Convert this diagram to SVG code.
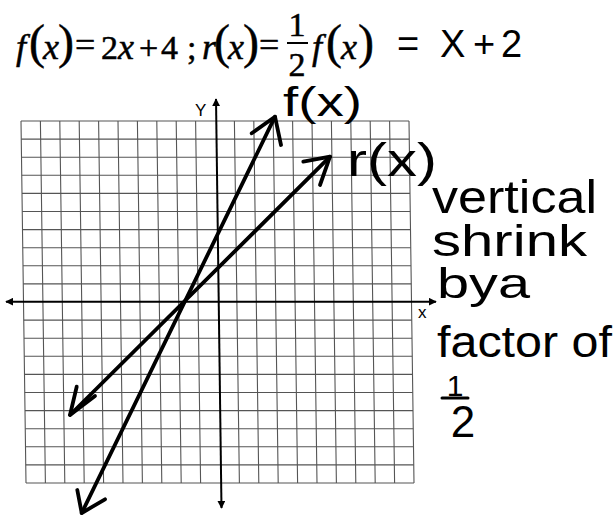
<svg xmlns="http://www.w3.org/2000/svg" width="614" height="516" viewBox="0 0 614 516">
<defs>
<style>
.math{font-family:"Liberation Serif","Times New Roman",serif;font-size:34px;fill:#000;stroke:#000;stroke-width:0.5}
.it{font-style:italic;font-size:36px}
.par{font-size:48px}
.eq{font-size:36px}
.hand{font-family:"Liberation Sans",Arial,sans-serif;fill:#000}
.grid{fill:none;stroke:#555;stroke-width:1.1}
.axis{fill:none;stroke:#000;stroke-width:2}
.fn{fill:none;stroke:#000;stroke-width:3.8;stroke-linecap:round;stroke-linejoin:round}
</style>
<marker id="ah" viewBox="0 0 10 10" refX="9" refY="5" markerWidth="4" markerHeight="4" orient="auto-start-reverse" markerUnits="strokeWidth">
<path d="M0 0L10 5L0 10z" fill="#000"/>
</marker>
</defs>
<rect width="614" height="516" fill="#fff"/>

<g id="equation">
<text class="math" y="59"><tspan class="it" x="16">f</tspan><tspan class="par" x="29" y="58">(</tspan><tspan class="it" x="43" y="59">x</tspan><tspan class="par" x="58" y="58">)</tspan><tspan class="eq" x="75" y="57">=</tspan><tspan x="101" y="59">2</tspan><tspan class="it" x="118">x</tspan><tspan x="139">+</tspan><tspan x="161">4</tspan><tspan x="187">;</tspan><tspan class="it" x="202">r</tspan><tspan class="par" x="214" y="58">(</tspan><tspan class="it" x="228" y="59">x</tspan><tspan class="par" x="243" y="58">)</tspan><tspan class="eq" x="259" y="57">=</tspan></text>
<text class="math" x="297" y="36" text-anchor="middle" font-size="30">1</text>
<line x1="287" y1="43" x2="308" y2="43" stroke="#000" stroke-width="2"/>
<text class="math" x="297" y="76" text-anchor="middle" font-size="33">2</text>
<text class="math" y="59"><tspan class="it" x="312">f</tspan><tspan class="par" x="326" y="58">(</tspan><tspan class="it" x="341" y="59">x</tspan><tspan class="par" x="358" y="58">)</tspan></text>
<text class="hand" font-size="38" y="57"><tspan x="397">=</tspan><tspan x="440">X</tspan><tspan x="473">+</tspan><tspan x="501">2</tspan></text>
</g>

<g id="grid">
<path class="grid" d="M21 121H409M21.25 139.1H409.25M21.5 157.2H409.5M21.75 175.3H409.75M22 193.4H410M22.25 211.5H410.25M22.5 229.6H410.5M22.75 247.7H410.75M23 265.8H411M23.25 283.9H411.25M23.75 320.1H411.75M24 338.2H412M24.25 356.3H412.25M24.5 374.4H412.5M24.75 392.5H412.75M25 410.6H413M25.25 428.7H413.25M25.5 446.8H413.5M25.75 464.9H413.75M26 483H414"/>
<path class="grid" d="M21 121L26 483M40.4 121L45.4 483M59.8 121L64.8 483M79.2 121L84.2 483M98.6 121L103.6 483M118 121L123 483M137.4 121L142.4 483M156.8 121L161.8 483M176.2 121L181.2 483M195.6 121L200.6 483M234.4 121L239.4 483M253.8 121L258.8 483M273.2 121L278.2 483M292.6 121L297.6 483M312 121L317 483M331.4 121L336.4 483M350.8 121L355.8 483M370.2 121L375.2 483M389.6 121L394.6 483M409 121L414 483"/>
</g>

<g id="axes">
<line class="axis" x1="6" y1="301.7" x2="436" y2="301.7" marker-start="url(#ah)" marker-end="url(#ah)"/>
<line class="axis" x1="216" y1="99" x2="221.5" y2="508" marker-start="url(#ah)" marker-end="url(#ah)"/>
<text class="hand" x="195" y="116" font-size="17">Y</text>
<text class="hand" x="418" y="318" font-size="17">x</text>
</g>

<g id="connectors">
<g id="f-line">
<path class="fn" d="M81.7 513L275 116.7"/>
<path class="fn" d="M251.7 133.3L275 116.7L281 145"/>
<path class="fn" d="M77.3 490L81.7 513L105 499.3"/>
</g>
<g id="r-line">
<path class="fn" d="M70 415L330 156.7"/>
<path class="fn" d="M303.3 161.7L330 156.7L320 185"/>
<path class="fn" d="M76.7 386.7L70 415L95 396"/>
</g>
</g>

<g id="label-f">
<text class="hand" x="283" y="116" font-size="40" textLength="79" lengthAdjust="spacingAndGlyphs">f(x)</text>
</g>
<g id="label-r">
<text class="hand" x="347" y="176" font-size="46" textLength="90" lengthAdjust="spacingAndGlyphs">r(x)</text>
</g>

<g id="note">
<text class="hand" x="432" y="213" font-size="46" textLength="165" lengthAdjust="spacingAndGlyphs">vertical</text>
<text class="hand" x="432" y="256" font-size="44" textLength="155" lengthAdjust="spacingAndGlyphs">shrink</text>
<text class="hand" x="437" y="298" font-size="42" textLength="93" lengthAdjust="spacingAndGlyphs">bya</text>
<text class="hand" x="437" y="357" font-size="44" textLength="175" lengthAdjust="spacingAndGlyphs">factor of</text>
<text class="hand" x="455" y="396" font-size="30" text-anchor="middle">1</text>
<line x1="442" y1="398" x2="468" y2="398" stroke="#000" stroke-width="3" stroke-linecap="round"/>
<text class="hand" x="463" y="437" font-size="44" text-anchor="middle">2</text>
</g>
</svg>
